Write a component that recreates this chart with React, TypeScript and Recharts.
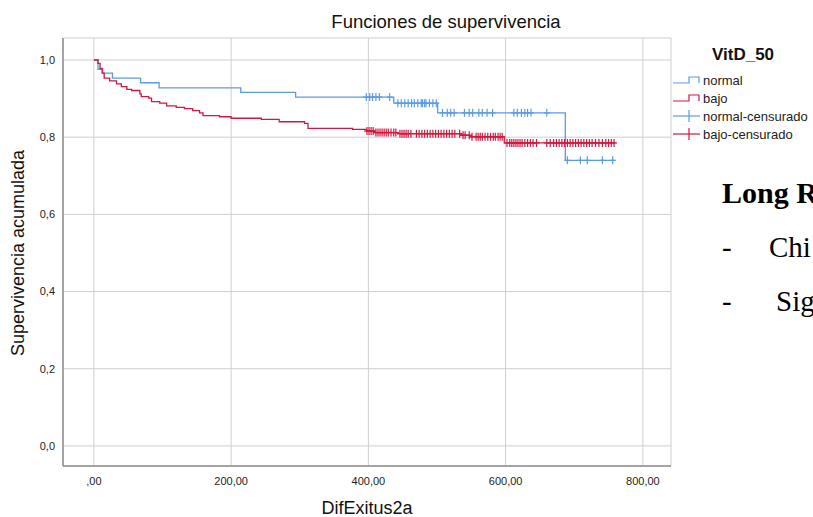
import React from "react";
import { ComposedChart, Line, Scatter, XAxis, YAxis, CartesianGrid } from "recharts";

// ---------- text ----------
const CHART_TITLE = "Funciones de supervivencia";
const X_LABEL = "DifExitus2a";
const Y_LABEL = "Supervivencia acumulada";
const LEGEND_TITLE = "VitD_50";
const LEGEND_ITEMS = ["normal", "bajo", "normal-censurado", "bajo-censurado"];
const SIDE_HEADING = "Long R";
const SIDE_BULLETS = ["Chi", "Sig"];

// ---------- ticks ----------
const X_TICKS = [0, 200, 400, 600, 800];
const X_TICK_LABELS = [",00", "200,00", "400,00", "600,00", "800,00"];
const Y_TICKS = [0, 0.2, 0.4, 0.6, 0.8, 1.0];
const Y_TICK_LABELS = ["0,0", "0,2", "0,4", "0,6", "0,8", "1,0"];

// ---------- series: normal ----------
const normalTimes = [0, 6, 13, 27, 68, 95, 214, 294, 437, 501, 687, 760];
const normalSurv = [1.0, 0.976, 0.966, 0.953, 0.941, 0.928, 0.916, 0.904, 0.888, 0.863, 0.74, 0.74];
const normalCensored = [
  397, 402, 406, 411, 416, 431,
  443, 448, 453, 458, 463, 467, 472, 477, 479, 482, 484, 489, 494, 499,
  508, 515, 520, 525, 540, 547, 552, 561, 566, 573, 581, 612, 617, 623, 628, 632, 637, 660,
  690, 709, 719, 741, 756,
];

// ---------- series: bajo ----------
const bajoTimes = [
  0, 6, 9, 12, 15, 23, 33, 40, 48, 55, 67, 69, 80, 84, 96, 106, 120, 132, 144, 154, 159,
  183, 200, 244, 270, 307, 312, 377, 397, 409, 443, 535, 548, 598, 760,
];
const bajoSurv = [
  1.0, 0.991, 0.978, 0.966, 0.953, 0.946, 0.938, 0.931, 0.924, 0.921, 0.912, 0.905, 0.901, 0.892,
  0.888, 0.881, 0.877, 0.874, 0.869, 0.863, 0.856, 0.853, 0.849, 0.846, 0.84, 0.836, 0.823, 0.82,
  0.816, 0.812, 0.809, 0.805, 0.801, 0.785, 0.785,
];
const bajoCensored = [
  398, 401, 404, 407,
  411, 414, 417, 420, 423, 426, 429, 433, 437, 440,
  446, 449, 452, 455, 458, 462, 470, 474, 478, 482, 486, 490, 494, 498, 502, 506, 510, 514, 518, 522, 526,
  533, 538, 541, 547, 551,
  557, 560, 563, 566, 570, 574, 578, 582, 585, 589, 592, 595,
  602, 606, 609, 612, 615, 618, 621, 624, 628, 632, 636, 640, 645, 660, 665, 670, 674, 678, 682,
  686, 690, 694, 698, 702, 706, 710, 714, 718, 722, 726, 731, 736, 741, 746, 750, 754, 758,
];

const BLUE = "#5b9be6";
const RED = "#d3173f";
const FONT = "'Liberation Sans', Arial, sans-serif";

const toSteps = (times: number[], surv: number[]) => times.map((t, i) => ({ t, s: surv[i] }));
const levelAt = (times: number[], surv: number[], t: number) => {
  let v = surv[0];
  for (let i = 0; i < times.length; i++) if (times[i] <= t) v = surv[i];
  return v;
};
const toCensor = (ct: number[], times: number[], surv: number[]) =>
  ct.map((t) => ({ t, s: levelAt(times, surv, t) }));

const normalData = toSteps(normalTimes, normalSurv);
const bajoData = toSteps(bajoTimes, bajoSurv);
const normalCens = toCensor(normalCensored, normalTimes, normalSurv);
const bajoCens = toCensor(bajoCensored, bajoTimes, bajoSurv);

const makeCross = (color: string) => (props: any) => {
  const { cx, cy } = props;
  if (cx == null || cy == null) return <g />;
  return (
    <g stroke={color} strokeWidth={1.2}>
      <line x1={cx} y1={cy - 4} x2={cx} y2={cy + 4} />
      <line x1={cx - 3} y1={cy} x2={cx + 3} y2={cy} />
    </g>
  );
};

const xFmt = (v: number) => X_TICK_LABELS[X_TICKS.indexOf(v)] ?? String(v);
const yFmt = (v: number) => {
  const i = Y_TICKS.findIndex((y) => Math.abs(y - v) < 1e-6);
  return i >= 0 ? Y_TICK_LABELS[i] : String(v);
};

const LegendSymbol = ({ kind, color, y }: { kind: string; color: string; y: number }) => {
  if (kind === "step") {
    return (
      <polyline
        points={`673,${y + 3} 689,${y + 3} 689,${y - 3} 699,${y - 3} 699,${y + 3}`}
        fill="none"
        stroke={color}
        strokeWidth={1.2}
      />
    );
  }
  return (
    <g stroke={color} strokeWidth={1.2}>
      <line x1={673} y1={y} x2={700} y2={y} />
      <line x1={689} y1={y - 6} x2={689} y2={y + 6} />
    </g>
  );
};

export default function App() {
  const legendYs = [80, 98, 116, 134];
  const legendKinds = ["step", "step", "cross", "cross"];
  const legendColors = [BLUE, RED, BLUE, RED];
  return (
    <div
      style={{
        position: "absolute",
        left: 0,
        top: 0,
        width: 813,
        height: 517,
        overflow: "hidden",
        background: "#fff",
      }}
    >
      <ComposedChart
        width={813}
        height={517}
        margin={{ top: 38, right: 142, bottom: 21, left: 23 }}
      >
        <CartesianGrid stroke="#cfcfcf" strokeWidth={1} />
        <XAxis
          dataKey="t"
          type="number"
          domain={[-45, 841]}
          ticks={X_TICKS}
          tickFormatter={xFmt}
          allowDataOverflow
          height={30}
          tickSize={0}
          tickMargin={11}
          axisLine={{ stroke: "#8e8e8e", strokeWidth: 1.5 }}
          tick={{ fill: "#222", fontSize: 11, fontFamily: FONT }}
        />
        <YAxis
          dataKey="s"
          type="number"
          domain={[-0.052, 1.057]}
          ticks={Y_TICKS}
          tickFormatter={yFmt}
          allowDataOverflow
          width={40}
          tickSize={0}
          tickMargin={8}
          axisLine={{ stroke: "#8e8e8e", strokeWidth: 1.5 }}
          tick={{ fill: "#222", fontSize: 11, fontFamily: FONT }}
        />
        <Line
          data={normalData}
          dataKey="s"
          type="stepAfter"
          stroke={BLUE}
          strokeWidth={1.3}
          dot={false}
          isAnimationActive={false}
          name="normal"
        />
        <Line
          data={bajoData}
          dataKey="s"
          type="stepAfter"
          stroke={RED}
          strokeWidth={1.3}
          dot={false}
          isAnimationActive={false}
          name="bajo"
        />
        <Scatter
          data={normalCens}
          dataKey="s"
          shape={makeCross(BLUE)}
          isAnimationActive={false}
          name="normal-censurado"
        />
        <Scatter
          data={bajoCens}
          dataKey="s"
          shape={makeCross(RED)}
          isAnimationActive={false}
          name="bajo-censurado"
        />
      </ComposedChart>

      <svg
        width={813}
        height={517}
        style={{ position: "absolute", left: 0, top: 0, pointerEvents: "none" }}
      >
        <text x={446} y={28} textAnchor="middle" fontSize={18.5} fontFamily={FONT} fill="#111">
          {CHART_TITLE}
        </text>
        <text x={367} y={514} textAnchor="middle" fontSize={18} fontFamily={FONT} fill="#111">
          {X_LABEL}
        </text>
        <text
          x={18}
          y={253}
          transform="rotate(-90, 18, 253)"
          textAnchor="middle"
          dominantBaseline="central"
          fontSize={18}
          fontFamily={FONT}
          fill="#111"
        >
          {Y_LABEL}
        </text>

        <text x={712} y={60} fontSize={17} fontWeight="bold" fontFamily={FONT} fill="#111">
          {LEGEND_TITLE}
        </text>
        {LEGEND_ITEMS.map((name, i) => (
          <g key={name}>
            <LegendSymbol kind={legendKinds[i]} color={legendColors[i]} y={legendYs[i]} />
            <text
              x={703}
              y={legendYs[i]}
              dominantBaseline="central"
              fontSize={13}
              fontFamily={FONT}
              fill="#222"
            >
              {name}
            </text>
          </g>
        ))}

        <text
          x={722}
          y={203}
          fontSize={30}
          fontWeight="bold"
          fontFamily="'Liberation Serif', 'Times New Roman', serif"
          fill="#000"
        >
          {SIDE_HEADING}
        </text>
        {SIDE_BULLETS.map((b, i) => (
          <g key={b}>
            <text
              x={722}
              y={257 + i * 54}
              fontSize={29}
              fontFamily="'Liberation Serif', 'Times New Roman', serif"
              fill="#000"
            >
              -
            </text>
            <text
              x={i === 0 ? 769 : 776}
              y={257 + i * 54}
              fontSize={29}
              fontFamily="'Liberation Serif', 'Times New Roman', serif"
              fill="#000"
            >
              {b}
            </text>
          </g>
        ))}
      </svg>
    </div>
  );
}
